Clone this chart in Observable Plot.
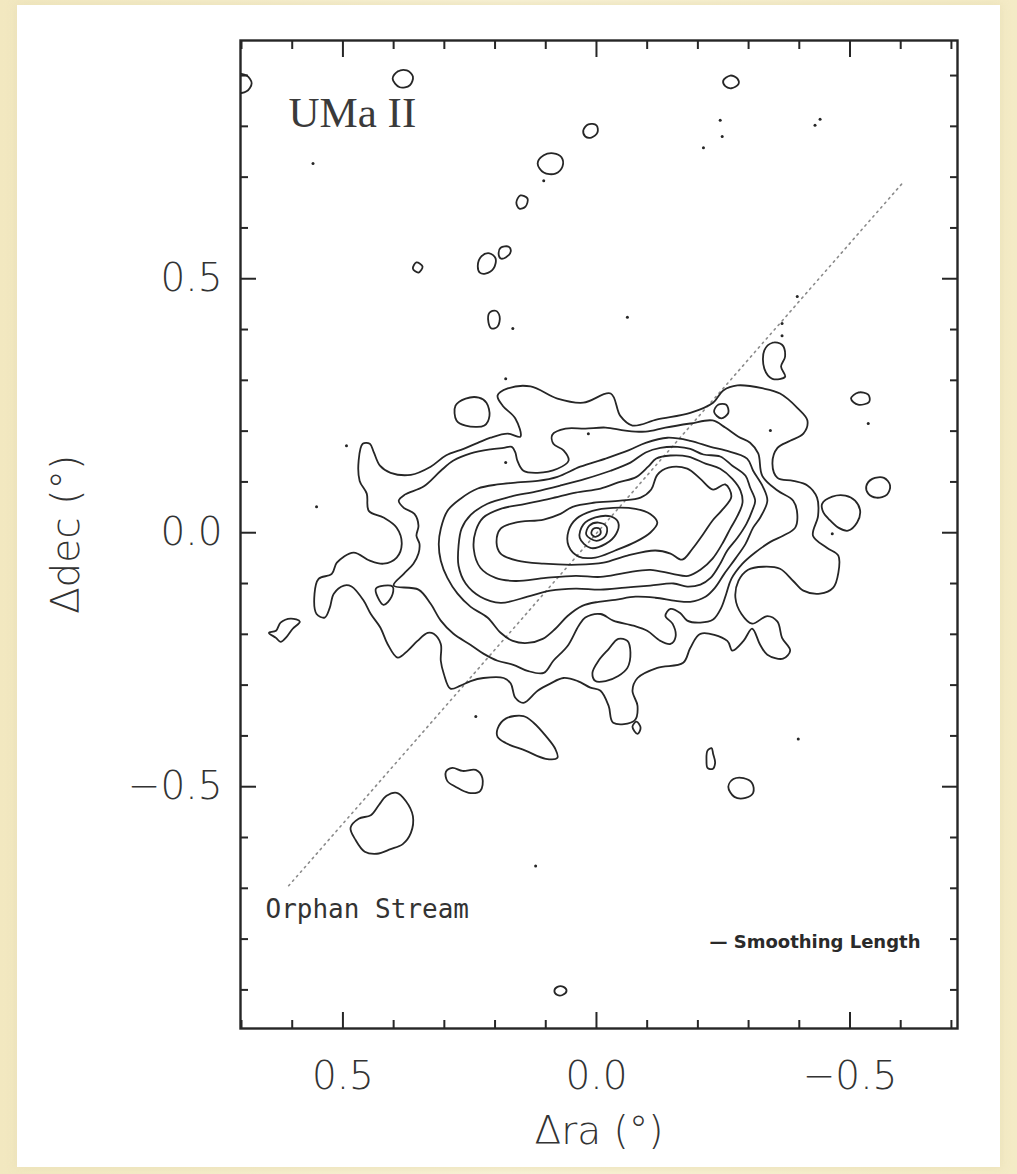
<!DOCTYPE html>
<html><head><meta charset="utf-8">
<script src="https://cdn.jsdelivr.net/npm/d3@7"></script>
<script src="https://cdn.jsdelivr.net/npm/@observablehq/plot@0.6"></script>
<style>
html,body{margin:0;padding:0;}
body{width:1017px;height:1174px;position:relative;overflow:hidden;background:linear-gradient(90deg,#f2e8c0 0%,#f9f3d9 50%,#f4ebc6 100%);}
#panel{position:absolute;left:17px;top:5px;width:983px;height:1162px;background:#fff;box-shadow:0 0 8px 2px rgba(235,225,185,0.9);}
#chart{position:absolute;left:0;top:0;}
</style></head>
<body><div id="panel"></div><div id="chart"></div>
<script>
// Contours of the UMa II surface density, [Δra, Δdec] in degrees
const contourOuter = [[0.461,0.175],[0.447,0.175],[0.439,0.158],[0.427,0.132],[0.406,0.118],[0.366,0.114],[0.327,0.130],[0.297,0.152],[0.262,0.165],[0.234,0.177],[0.209,0.187],[0.175,0.195],[0.150,0.189],[0.160,0.225],[0.185,0.250],[0.195,0.270],[0.175,0.284],[0.130,0.288],[0.077,0.264],[0.026,0.256],[-0.028,0.274],[-0.047,0.230],[-0.071,0.211],[-0.120,0.223],[-0.185,0.236],[-0.230,0.256],[-0.250,0.280],[-0.278,0.290],[-0.329,0.284],[-0.362,0.274],[-0.396,0.246],[-0.416,0.221],[-0.408,0.195],[-0.382,0.181],[-0.357,0.167],[-0.347,0.136],[-0.357,0.108],[-0.388,0.102],[-0.416,0.093],[-0.435,0.069],[-0.437,0.033],[-0.427,-0.006],[-0.455,-0.030],[-0.477,-0.045],[-0.477,-0.079],[-0.467,-0.108],[-0.441,-0.120],[-0.408,-0.114],[-0.388,-0.095],[-0.362,-0.071],[-0.329,-0.067],[-0.299,-0.073],[-0.280,-0.095],[-0.274,-0.128],[-0.286,-0.160],[-0.307,-0.179],[-0.337,-0.164],[-0.357,-0.175],[-0.366,-0.207],[-0.382,-0.232],[-0.368,-0.248],[-0.337,-0.240],[-0.323,-0.221],[-0.307,-0.189],[-0.290,-0.213],[-0.268,-0.232],[-0.258,-0.213],[-0.205,-0.199],[-0.185,-0.227],[-0.171,-0.256],[-0.120,-0.266],[-0.081,-0.286],[-0.071,-0.311],[-0.081,-0.341],[-0.075,-0.370],[-0.033,-0.374],[-0.024,-0.341],[-0.008,-0.311],[0.012,-0.305],[0.037,-0.292],[0.065,-0.286],[0.091,-0.297],[0.116,-0.311],[0.144,-0.335],[0.160,-0.325],[0.169,-0.297],[0.183,-0.286],[0.223,-0.286],[0.248,-0.292],[0.268,-0.301],[0.288,-0.307],[0.301,-0.278],[0.307,-0.252],[0.307,-0.219],[0.321,-0.199],[0.333,-0.197],[0.353,-0.213],[0.372,-0.232],[0.392,-0.246],[0.412,-0.219],[0.426,-0.187],[0.445,-0.160],[0.459,-0.134],[0.483,-0.106],[0.498,-0.104],[0.518,-0.120],[0.526,-0.148],[0.536,-0.167],[0.552,-0.160],[0.556,-0.120],[0.548,-0.091],[0.522,-0.081],[0.512,-0.059],[0.479,-0.039],[0.447,-0.055],[0.420,-0.061],[0.394,-0.049],[0.384,-0.022],[0.394,0.010],[0.420,0.030],[0.449,0.043],[0.453,0.077],[0.467,0.102],[0.469,0.142]];
const contour2 = [[0.400,-0.104],[0.380,-0.081],[0.361,-0.061],[0.351,-0.041],[0.349,-0.022],[0.355,-0.006],[0.351,0.014],[0.359,0.037],[0.380,0.049],[0.390,0.063],[0.378,0.075],[0.341,0.091],[0.307,0.122],[0.282,0.142],[0.248,0.156],[0.209,0.164],[0.183,0.167],[0.167,0.169],[0.160,0.158],[0.156,0.142],[0.144,0.122],[0.116,0.118],[0.077,0.126],[0.055,0.142],[0.065,0.162],[0.085,0.175],[0.087,0.193],[0.061,0.205],[0.022,0.205],[-0.018,0.207],[-0.057,0.201],[-0.097,0.199],[-0.136,0.207],[-0.185,0.215],[-0.229,0.221],[-0.254,0.207],[-0.280,0.189],[-0.303,0.177],[-0.319,0.156],[-0.327,0.112],[-0.357,0.083],[-0.388,0.063],[-0.396,0.037],[-0.392,0.010],[-0.368,-0.006],[-0.343,-0.018],[-0.313,-0.039],[-0.288,-0.061],[-0.266,-0.091],[-0.256,-0.120],[-0.246,-0.148],[-0.230,-0.171],[-0.205,-0.177],[-0.179,-0.173],[-0.165,-0.158],[-0.146,-0.150],[-0.136,-0.164],[-0.150,-0.179],[-0.156,-0.205],[-0.146,-0.219],[-0.126,-0.213],[-0.100,-0.193],[-0.073,-0.183],[-0.033,-0.173],[-0.008,-0.160],[0.022,-0.167],[0.035,-0.183],[0.057,-0.223],[0.085,-0.252],[0.104,-0.276],[0.136,-0.272],[0.164,-0.260],[0.195,-0.252],[0.223,-0.238],[0.248,-0.221],[0.282,-0.199],[0.307,-0.173],[0.327,-0.140],[0.351,-0.112]];
const contour3 = [[0.307,0.008],[0.311,-0.022],[0.307,-0.055],[0.294,-0.089],[0.274,-0.120],[0.248,-0.146],[0.215,-0.167],[0.189,-0.197],[0.165,-0.213],[0.136,-0.217],[0.106,-0.209],[0.081,-0.189],[0.057,-0.164],[0.028,-0.144],[-0.004,-0.136],[-0.037,-0.132],[-0.077,-0.126],[-0.116,-0.128],[-0.156,-0.134],[-0.185,-0.136],[-0.215,-0.126],[-0.234,-0.108],[-0.252,-0.081],[-0.274,-0.051],[-0.294,-0.022],[-0.309,0.010],[-0.323,0.030],[-0.337,0.063],[-0.329,0.089],[-0.309,0.122],[-0.297,0.146],[-0.254,0.162],[-0.225,0.169],[-0.185,0.181],[-0.140,0.187],[-0.097,0.177],[-0.063,0.162],[-0.018,0.146],[0.032,0.130],[0.077,0.110],[0.116,0.102],[0.156,0.099],[0.195,0.095],[0.234,0.087],[0.268,0.067],[0.294,0.043]];
const contour4 = [[0.272,-0.026],[0.266,0.008],[0.248,0.035],[0.215,0.057],[0.169,0.071],[0.120,0.081],[0.071,0.093],[0.022,0.106],[-0.028,0.122],[-0.067,0.138],[-0.097,0.158],[-0.126,0.167],[-0.160,0.169],[-0.185,0.165],[-0.211,0.154],[-0.244,0.150],[-0.268,0.132],[-0.294,0.112],[-0.303,0.089],[-0.313,0.063],[-0.307,0.043],[-0.296,0.018],[-0.278,-0.010],[-0.258,-0.035],[-0.244,-0.061],[-0.225,-0.089],[-0.205,-0.102],[-0.179,-0.106],[-0.152,-0.100],[-0.106,-0.104],[-0.057,-0.108],[-0.008,-0.112],[0.041,-0.110],[0.091,-0.114],[0.136,-0.126],[0.189,-0.138],[0.229,-0.126],[0.258,-0.100],[0.272,-0.065]];
const contour5 = [[0.242,-0.032],[0.238,0.004],[0.223,0.030],[0.189,0.047],[0.140,0.057],[0.091,0.067],[0.041,0.079],[-0.008,0.087],[-0.043,0.099],[-0.079,0.110],[-0.102,0.130],[-0.118,0.146],[-0.146,0.152],[-0.181,0.150],[-0.215,0.136],[-0.244,0.126],[-0.268,0.106],[-0.284,0.083],[-0.288,0.059],[-0.278,0.033],[-0.264,0.008],[-0.248,-0.022],[-0.229,-0.051],[-0.205,-0.073],[-0.181,-0.085],[-0.150,-0.081],[-0.106,-0.073],[-0.057,-0.079],[-0.008,-0.087],[0.041,-0.085],[0.100,-0.089],[0.160,-0.095],[0.199,-0.089],[0.229,-0.069]];
const contour6 = [[0.197,-0.020],[0.189,0.008],[0.160,0.020],[0.104,0.026],[0.071,0.037],[0.047,0.051],[0.006,0.059],[-0.047,0.063],[-0.087,0.069],[-0.108,0.085],[-0.120,0.114],[-0.142,0.128],[-0.179,0.126],[-0.205,0.106],[-0.230,0.085],[-0.254,0.095],[-0.266,0.071],[-0.248,0.045],[-0.229,0.024],[-0.211,-0.002],[-0.189,-0.032],[-0.169,-0.053],[-0.146,-0.041],[-0.116,-0.035],[-0.061,-0.045],[-0.014,-0.059],[0.037,-0.063],[0.104,-0.061],[0.156,-0.055],[0.189,-0.041]];
const contour7 = [[0.055,-0.026],[0.055,0.004],[0.039,0.028],[0.008,0.043],[-0.033,0.049],[-0.077,0.047],[-0.106,0.037],[-0.120,0.020],[-0.106,0.000],[-0.077,-0.018],[-0.037,-0.035],[0.002,-0.049],[0.035,-0.047]];
const contour8 = [[0.033,-0.010],[0.026,0.016],[0.002,0.030],[-0.028,0.032],[-0.043,0.020],[-0.039,-0.002],[-0.018,-0.022],[0.012,-0.030]];
const contour9 = [[0.020,-0.004],[0.014,0.014],[-0.004,0.020],[-0.020,0.012],[-0.018,-0.006],[0.000,-0.016]];
const contour10 = [[0.010,-0.002],[0.006,0.008],[-0.006,0.008],[-0.008,-0.002],[0.002,-0.008]];

// Isolated outer-level islands
const islands = [
  [[0.709,0.902],[0.690,0.900],[0.680,0.885],[0.690,0.869],[0.709,0.867]],
  [[0.402,0.894],[0.392,0.908],[0.374,0.910],[0.362,0.898],[0.368,0.881],[0.388,0.877]],
  [[-0.250,0.890],[-0.264,0.900],[-0.278,0.894],[-0.280,0.883],[-0.266,0.875],[-0.254,0.879]],
  [[0.026,0.792],[0.016,0.804],[0.000,0.802],[-0.002,0.788],[0.010,0.778],[0.022,0.780]],
  [[0.116,0.727],[0.104,0.743],[0.085,0.747],[0.069,0.739],[0.067,0.721],[0.081,0.707],[0.104,0.709]],
  [[0.158,0.650],[0.150,0.664],[0.136,0.658],[0.140,0.642],[0.152,0.638]],
  [[0.234,0.526],[0.227,0.544],[0.211,0.550],[0.199,0.540],[0.203,0.520],[0.219,0.510],[0.230,0.512]],
  [[0.193,0.550],[0.189,0.561],[0.173,0.563],[0.169,0.554],[0.179,0.542],[0.189,0.540]],
  [[0.362,0.520],[0.355,0.532],[0.343,0.524],[0.351,0.512]],
  [[0.213,0.414],[0.211,0.433],[0.199,0.437],[0.191,0.426],[0.195,0.406],[0.207,0.402]],
  [[0.278,0.250],[0.258,0.264],[0.232,0.266],[0.217,0.256],[0.211,0.230],[0.221,0.211],[0.258,0.211],[0.276,0.221]],
  [[-0.331,0.359],[-0.347,0.374],[-0.366,0.370],[-0.372,0.347],[-0.364,0.327],[-0.372,0.307],[-0.347,0.303],[-0.331,0.323]],
  [[-0.502,0.264],[-0.516,0.276],[-0.536,0.272],[-0.538,0.258],[-0.516,0.252]],
  [[-0.445,0.057],[-0.465,0.071],[-0.491,0.073],[-0.510,0.063],[-0.520,0.043],[-0.514,0.020],[-0.496,0.004],[-0.477,0.010],[-0.459,0.026],[-0.447,0.041]],
  [[-0.532,0.091],[-0.544,0.106],[-0.567,0.108],[-0.579,0.093],[-0.573,0.075],[-0.552,0.069],[-0.536,0.077]],
  [[-0.232,0.238],[-0.240,0.252],[-0.256,0.252],[-0.260,0.236],[-0.246,0.225]],
  [[0.646,-0.197],[0.632,-0.193],[0.623,-0.177],[0.603,-0.169],[0.585,-0.175],[0.599,-0.189],[0.611,-0.205],[0.623,-0.215],[0.632,-0.207]],
  [[0.435,-0.110],[0.402,-0.106],[0.404,-0.126],[0.420,-0.142]],
  [[0.195,-0.386],[0.179,-0.366],[0.144,-0.361],[0.124,-0.374],[0.100,-0.400],[0.081,-0.426],[0.077,-0.443],[0.100,-0.445],[0.140,-0.429],[0.179,-0.414],[0.195,-0.402]],
  [[0.297,-0.471],[0.284,-0.463],[0.264,-0.469],[0.238,-0.467],[0.225,-0.483],[0.229,-0.508],[0.252,-0.512],[0.278,-0.500],[0.294,-0.489]],
  [[0.485,-0.581],[0.469,-0.563],[0.445,-0.556],[0.429,-0.536],[0.414,-0.518],[0.394,-0.512],[0.376,-0.528],[0.362,-0.558],[0.366,-0.591],[0.382,-0.613],[0.406,-0.623],[0.433,-0.632],[0.457,-0.628],[0.475,-0.605]],
  [[0.008,-0.276],[-0.004,-0.252],[-0.024,-0.229],[-0.043,-0.209],[-0.061,-0.213],[-0.067,-0.236],[-0.061,-0.266],[-0.043,-0.282],[-0.018,-0.292],[0.002,-0.292]],
  [[-0.260,-0.500],[-0.270,-0.485],[-0.290,-0.483],[-0.307,-0.493],[-0.309,-0.512],[-0.294,-0.522],[-0.272,-0.520]],
  [[-0.217,-0.449],[-0.219,-0.429],[-0.227,-0.424],[-0.230,-0.435],[-0.234,-0.453],[-0.229,-0.465],[-0.219,-0.463]],
  [[0.083,-0.902],[0.077,-0.894],[0.065,-0.894],[0.059,-0.902],[0.067,-0.910],[0.077,-0.910]],
  [[-0.071,-0.382],[-0.079,-0.372],[-0.087,-0.384],[-0.081,-0.396]]
];

// Single-pixel density peaks
const peaks = [[0.559,0.727],[0.104,0.693],[0.165,0.402],[-0.211,0.758],[-0.244,0.812],[-0.248,0.780],[-0.431,0.802],[-0.441,0.814],[-0.396,0.465],[-0.366,0.412],[-0.366,0.388],[-0.061,0.424],[0.493,0.171],[0.552,0.051],[0.238,-0.362],[0.120,-0.656],[-0.398,-0.406],[-0.343,0.201],[-0.536,0.215],[-0.465,-0.002],[0.016,0.195],[0.179,0.303],[0.179,0.138]];

// Orphan Stream track
const orphanTrack = [[0.607,-0.695],[-0.605,0.690]];

const xMajorTicks = [0.5, 0, -0.5];
const xMinorTicks = [0.7,0.6,0.4,0.3,0.2,0.1,-0.1,-0.2,-0.3,-0.4,-0.6,-0.7];
const yMajorTicks = [0.5, 0, -0.5];
const yMinorTicks = [0.9,0.8,0.7,0.6,0.4,0.3,0.2,0.1,-0.1,-0.2,-0.3,-0.4,-0.6,-0.7,-0.8,-0.9];

const contours = [contourOuter, contour2, contour3, contour4, contour5, contour6, contour7, contour8, contour9, contour10, ...islands];
const rows = contours.flatMap((pts, id) => pts.map(([ra, dec]) => ({id, ra, dec})));
const peakRows = peaks.map(([ra, dec]) => ({ra, dec}));
const trackRows = orphanTrack.map(([ra, dec]) => ({ra, dec}));

const fmt = d3.format(".1f");
const ink = "#262626";
const labelFont = {fontFamily: "DejaVu Sans", fontWeight: 200, fontSize: 39, fill: "#333"};

const tickSet = (ticks, len) => [
  Plot.axisX(ticks, {anchor: "bottom", tickSize: len, dy: -len, fill: "none", label: null, stroke: ink, strokeWidth: 2}),
  Plot.axisX(ticks, {anchor: "top", tickSize: len, dy: len, fill: "none", label: null, stroke: ink, strokeWidth: 2})
];
const tickSetY = (ticks, len) => [
  Plot.axisY(ticks, {anchor: "left", tickSize: len, dx: len, fill: "none", label: null, stroke: ink, strokeWidth: 2}),
  Plot.axisY(ticks, {anchor: "right", tickSize: len, dx: -len, fill: "none", label: null, stroke: ink, strokeWidth: 2})
];

const chart = Plot.plot({
  width: 1017,
  height: 1174,
  marginLeft: 240,
  marginRight: 60,
  marginTop: 40,
  marginBottom: 146,
  style: {background: "transparent", overflow: "visible"},
  x: {domain: [0.702, -0.712], label: null},
  y: {domain: [-0.976, 0.969], label: null},
  marks: [
    Plot.line(trackRows, {x: "ra", y: "dec", stroke: "#8a8a8a", strokeWidth: 1.6, strokeDasharray: "1.6 4.4"}),
    Plot.line(rows, {x: "ra", y: "dec", z: "id", curve: "catmull-rom-closed", stroke: ink, strokeWidth: 1.8, clip: true}),
    Plot.dot(peakRows, {x: "ra", y: "dec", r: 1.5, fill: ink, stroke: null}),
    Plot.frame({stroke: ink, strokeWidth: 2.4}),
    ...tickSet(xMinorTicks, 8),
    ...tickSet(xMajorTicks, 16),
    ...tickSetY(yMinorTicks, 8),
    ...tickSetY(yMajorTicks, 16),
    Plot.axisX(xMajorTicks, {anchor: "bottom", tickSize: 0, tickPadding: 33, tickFormat: fmt, label: null, ...labelFont}),
    Plot.axisY(yMajorTicks, {anchor: "left", tickSize: 0, tickPadding: 18, tickFormat: fmt, label: null, ...labelFont}),
    Plot.text(["Δra (°)"], {text: d => d, frameAnchor: "bottom", dy: 115, textAnchor: "middle", lineAnchor: "bottom", ...labelFont}),
    Plot.text(["Δdec (°)"], {text: d => d, frameAnchor: "left", dx: -162, rotate: -90, textAnchor: "middle", lineAnchor: "bottom", ...labelFont}),
    Plot.text(["UMa II"], {text: d => d, frameAnchor: "top-left", dx: 48, dy: 86, textAnchor: "start", lineAnchor: "bottom", fontFamily: "Liberation Serif", fontSize: 43, fill: "#3a3a3a"}),
    Plot.text(["Orphan Stream"], {text: d => d, frameAnchor: "bottom-left", dx: 25, dy: -111, textAnchor: "start", lineAnchor: "bottom", fontFamily: "DejaVu Sans Mono", fontSize: 26, fill: "#333"}),
    Plot.text(["— Smoothing Length"], {text: d => d, frameAnchor: "bottom-right", dx: -37, dy: -81, textAnchor: "end", lineAnchor: "bottom", fontFamily: "DejaVu Sans", fontWeight: "bold", fontSize: 18, fill: "#2a2a2a"})
  ]
});
document.getElementById("chart").appendChild(chart);
</script>
</body></html>
